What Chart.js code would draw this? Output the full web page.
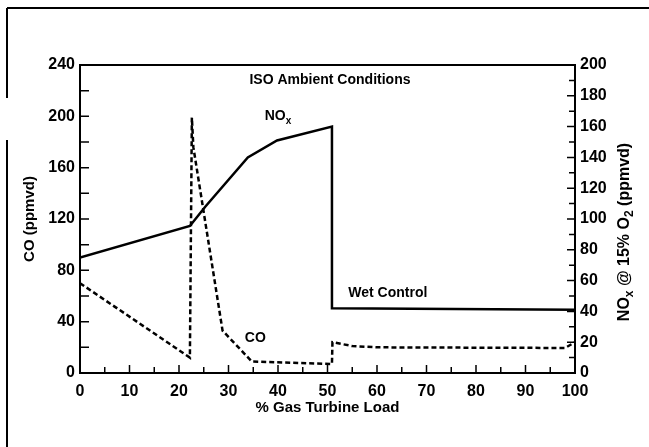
<!DOCTYPE html>
<html>
<head>
<meta charset="utf-8">
<script src="https://cdn.jsdelivr.net/npm/chart.js@4"></script>
<style>
    html, body { margin: 0; padding: 0; background: #fff; }
    #wrap { width: 649px; height: 447px; }
</style>
</head>
<body>
<div id="wrap"><canvas id="emissionsChart" width="649" height="447"></canvas></div>
<script>
// dados
const noxLoad = [0, 22.2, 25.3, 33.9, 39.8, 50.9, 50.9, 100];
const noxValues = [75, 95.5, 108, 140, 151, 160, 42, 41];
const coLoad = [0, 22.2, 22.6, 22.9, 28.8, 34.7, 50.9, 51.0, 55, 60, 98, 100];
const coValues = [70, 12, 199, 176, 33, 9, 7, 24, 21, 20, 19.5, 24];
const loadTicks = [0, 10, 20, 30, 40, 50, 60, 70, 80, 90, 100];
const coTicks = [0, 40, 80, 120, 160, 200, 240];
const noxTicks = [0, 20, 40, 60, 80, 100, 120, 140, 160, 180, 200];

const FONT = '"Liberation Sans", Arial, sans-serif';

function toPoints(xs, ys) {
    return xs.map((x, i) => ({ x: x, y: ys[i] }));
}

// moldura, marcas internas e textos
const framePlugin = {
    id: 'frame',
    beforeDraw(chart) {
        const ctx = chart.ctx;
        ctx.save();
        ctx.strokeStyle = '#000';
        ctx.lineWidth = 2;
        ctx.beginPath();
        ctx.moveTo(7, 8); ctx.lineTo(649, 8);
        ctx.moveTo(7, 8); ctx.lineTo(7, 98);
        ctx.moveTo(7, 140); ctx.lineTo(7, 447);
        ctx.stroke();
        ctx.restore();
    },
    afterDraw(chart) {
        const ctx = chart.ctx;
        const a = chart.chartArea;
        const x = chart.scales.x, y = chart.scales.y, y2 = chart.scales.y2;
        ctx.save();
        ctx.strokeStyle = '#000';
        ctx.lineWidth = 2;
        ctx.strokeRect(a.left, a.top, a.right - a.left, a.bottom - a.top);

        ctx.lineWidth = 1.5;
        ctx.beginPath();
        for (let v = 5; v < 100; v += 5) {
            const px = x.getPixelForValue(v);
            ctx.moveTo(px, a.bottom); ctx.lineTo(px, a.bottom - (v % 10 === 0 ? 8 : 6));
        }
        for (let v = 20; v < 240; v += 20) {
            const py = y.getPixelForValue(v);
            ctx.moveTo(a.left, py); ctx.lineTo(a.left + 9, py);
        }
        for (let v = 10; v < 200; v += 10) {
            const py = y2.getPixelForValue(v);
            ctx.moveTo(a.right, py); ctx.lineTo(a.right - (v % 20 === 0 ? 8 : 6), py);
        }
        ctx.stroke();

        ctx.fillStyle = '#000';
        ctx.textBaseline = 'middle';
        ctx.font = 'bold 14px ' + FONT;
        ctx.textAlign = 'center';
        ctx.fillText('ISO Ambient Conditions', x.getPixelForValue(50.5), y.getPixelForValue(228));
        ctx.textAlign = 'left';
        ctx.fillText('CO', x.getPixelForValue(33.3), y.getPixelForValue(27));
        ctx.fillText('Wet Control', x.getPixelForValue(54.2), y.getPixelForValue(62));
        const nx = x.getPixelForValue(37.3), ny = y.getPixelForValue(200);
        ctx.fillText('NO', nx, ny);
        const w = ctx.measureText('NO').width;
        ctx.font = 'bold 10px ' + FONT;
        ctx.fillText('x', nx + w, ny + 5);

        // título do eixo direito, de baixo para cima
        ctx.translate(625, 232);
        ctx.rotate(-Math.PI / 2);
        const parts = [['NO', 16, 0], ['x', 12, 5], [' @ 15% O', 16, 0], ['2', 12, 5], [' (ppmvd)', 16, 0]];
        let total = 0;
        parts.forEach(p => { ctx.font = 'bold ' + p[1] + 'px ' + FONT; total += ctx.measureText(p[0]).width; });
        let cx = -total / 2;
        parts.forEach(p => {
            ctx.font = 'bold ' + p[1] + 'px ' + FONT;
            ctx.fillText(p[0], cx, p[2]);
            cx += ctx.measureText(p[0]).width;
        });
        ctx.restore();
    }
};

const tickFont = { family: FONT, size: 16, weight: 'bold' };

new Chart(document.getElementById('emissionsChart'), {
    type: 'line',
    data: {
        datasets: [{
            label: 'NOx',
            data: toPoints(noxLoad, noxValues),
            yAxisID: 'y2',
            borderColor: '#000',
            borderWidth: 2.5,
            pointRadius: 0,
            tension: 0,
            fill: false
        }, {
            label: 'CO',
            data: toPoints(coLoad, coValues),
            yAxisID: 'y',
            borderColor: '#000',
            borderWidth: 2.5,
            borderDash: [5, 3],
            pointRadius: 0,
            tension: 0,
            fill: false
        }]
    },
    options: {
        responsive: false,
        animation: false,
        layout: { padding: { top: 65, left: 0, right: 0, bottom: 0 } },
        plugins: {
            legend: { display: false },
            tooltip: { enabled: false }
        },
        scales: {
            x: {
                type: 'linear',
                min: 0,
                max: 100,
                afterBuildTicks: s => { s.ticks = loadTicks.map(v => ({ value: v })); },
                afterFit: s => { s.height = 74; },
                grid: { display: false, drawTicks: false },
                border: { display: false },
                ticks: { color: '#000', font: tickFont, padding: 9, maxRotation: 0 },
                title: {
                    display: true,
                    text: '% Gas Turbine Load',
                    color: '#000',
                    font: { family: FONT, size: 15, weight: 'bold' },
                    padding: { top: 0, bottom: 30 }
                }
            },
            y: {
                position: 'left',
                min: 0,
                max: 240,
                afterBuildTicks: s => { s.ticks = coTicks.map(v => ({ value: v })); },
                afterFit: s => { s.width = 80; },
                grid: { display: false, drawTicks: false },
                border: { display: false },
                ticks: { color: '#000', font: tickFont, padding: 5 },
                title: {
                    display: true,
                    text: 'CO (ppmvd)',
                    color: '#000',
                    font: { family: FONT, size: 15, weight: 'bold' },
                    padding: { top: 21, bottom: 0 }
                }
            },
            y2: {
                position: 'right',
                min: 0,
                max: 200,
                afterBuildTicks: s => { s.ticks = noxTicks.map(v => ({ value: v })); },
                afterFit: s => { s.width = 74; },
                grid: { display: false, drawTicks: false },
                border: { display: false },
                ticks: { color: '#000', font: tickFont, padding: 5 }
            }
        }
    },
    plugins: [framePlugin]
});
</script>
</body>
</html>
